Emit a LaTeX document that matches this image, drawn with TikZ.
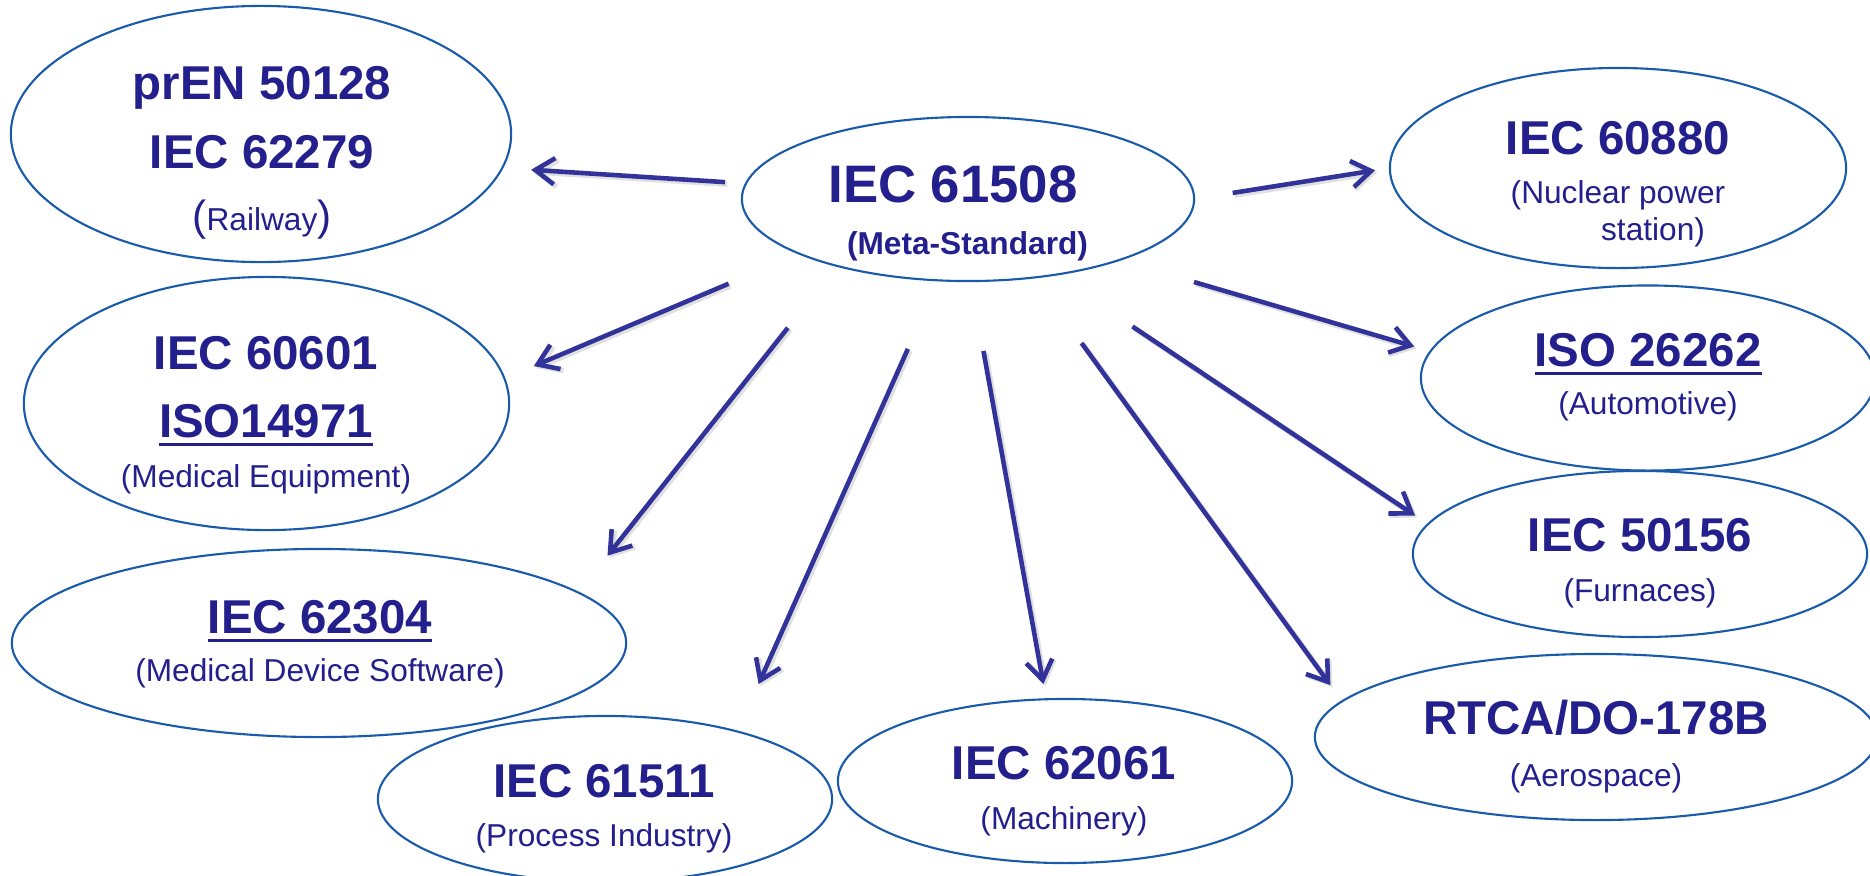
\documentclass[tikz,border=0pt]{standalone}
\usepackage{fontspec}
\setmainfont{Liberation Sans}
\usetikzlibrary{shapes.geometric,arrows.meta}

\definecolor{stdtext}{RGB}{35,31,140}
\definecolor{stdarrow}{RGB}{50,50,155}
\definecolor{stdline}{RGB}{25,90,170}

\newcommand\stdhead[1]{{\fontsize{13.5}{0}\selectfont\bfseries #1}}
\newcommand\stdul[1]{\setbox0\hbox{#1}\rlap{\rule[-2.6pt]{\wd0}{0.9pt}}\box0}

\begin{document}
\lineskiplimit=-\maxdimen\relax
\begin{tikzpicture}[x=0.01cm,y=-0.01cm,
  std node/.style={ellipse,draw=stdline,line width=0.6pt,inner sep=0pt,outer sep=0pt},
  std text/.style={align=center,text=stdtext,font=\fontsize{9}{0}\selectfont},
  link/.style={draw=stdarrow,line width=1.3pt,-{Straight Barb[length=5.5pt,width=7.5pt]},
    preaction={draw=black!12,line width=1.6pt,transform canvas={shift={(0.02cm,-0.02cm)}}}}]

\useasboundingbox (0,0) rectangle (1870,875);

% the meta-standard
\node[std node,minimum width=4.52cm,minimum height=1.64cm] (meta) at (968,199) {};
\node[std text] (metaT) at (953,213) {{\fontsize{15}{0}\selectfont\bfseries IEC 61508}\\[14.8pt]\hspace*{0.29cm}\textbf{(Meta-Standard)}};

% left side
\node[std node,minimum width=5.00cm,minimum height=2.56cm] (rail) at (261,134) {};
\node[std text] (railT) at (262,153) {\stdhead{prEN 50128}\\[19.6pt]\stdhead{IEC 62279}\\[17.6pt]{\fontsize{12}{0}\selectfont(}Railway{\fontsize{12}{0}\selectfont)}};

\node[std node,minimum width=4.85cm,minimum height=2.53cm] (med) at (266.5,403.5) {};
\node[std text] (medT) at (266,415) {\stdhead{IEC 60601}\\[19.3pt]\stdhead{\stdul{ISO14971}}\\[14.2pt](Medical Equipment)};

\node[std node,minimum width=6.14cm,minimum height=1.88cm] (medsw) at (319,643) {};
\node[std text] (medswT) at (320,644) {\stdhead{\stdul{IEC 62304}}\\[13.7pt](Medical Device Software)};

% bottom
\node[std node,minimum width=4.54cm,minimum height=1.66cm] (proc) at (605,799) {};
\node[std text] (procT) at (604,809) {\stdhead{IEC 61511}\\[13.9pt](Process Industry)};

\node[std node,minimum width=4.54cm,minimum height=1.64cm] (mach) at (1065,781) {};
\node[std text] (machT) at (1064,791) {\stdhead{IEC 62061}\\[14.2pt](Machinery)};

% right side
\node[std node,minimum width=4.56cm,minimum height=2.00cm] (nuc) at (1618,168) {};
\node[std text] (nucT) at (1618,184) {\stdhead{IEC 60880}\\[13.9pt](Nuclear power\\[10.5pt]\hspace*{0.7cm}station)};

\node[std node,minimum width=4.54cm,minimum height=1.85cm] (automot) at (1648,378) {};
\node[std text] (automotT) at (1648,377) {\stdhead{\stdul{ISO 26262}}\\[13.7pt](Automotive)};

\node[std node,minimum width=4.54cm,minimum height=1.66cm] (furn) at (1640,554) {};
\node[std text] (furnT) at (1640,563) {\stdhead{IEC 50156}\\[14.2pt](Furnaces)};

\node[std node,minimum width=5.62cm,minimum height=1.66cm] (aero) at (1596,737) {};
\node[std text] (aeroT) at (1596,747) {\stdhead{RTCA/DO-178B}\\[14.8pt](Aerospace)};

% arrows
\foreach \src/\sa/\dst/\da/\gs/\gd in {meta/176/rail/352/0.21/0.29,
    meta/0/nuc/180/0.39/0.15,
    meta/198/med/6.5/0.77/0.32,
    meta/338.4/automot/173.5/0.78/0.17,
    meta/207/medsw/11.9/0.79/0.47,
    meta/319.7/furn/172.7/0.93/0.155,
    meta/250.4/proc/27.5/0.75/0.52,
    meta/272.5/mach/103.3/0.71/0.155,
    meta/310.3/aero/172/0.81/0.20}
  \draw[link,shorten <=\gs cm,shorten >=\gd cm] (\src.\sa) -- (\dst.\da);

\end{tikzpicture}
\end{document}
